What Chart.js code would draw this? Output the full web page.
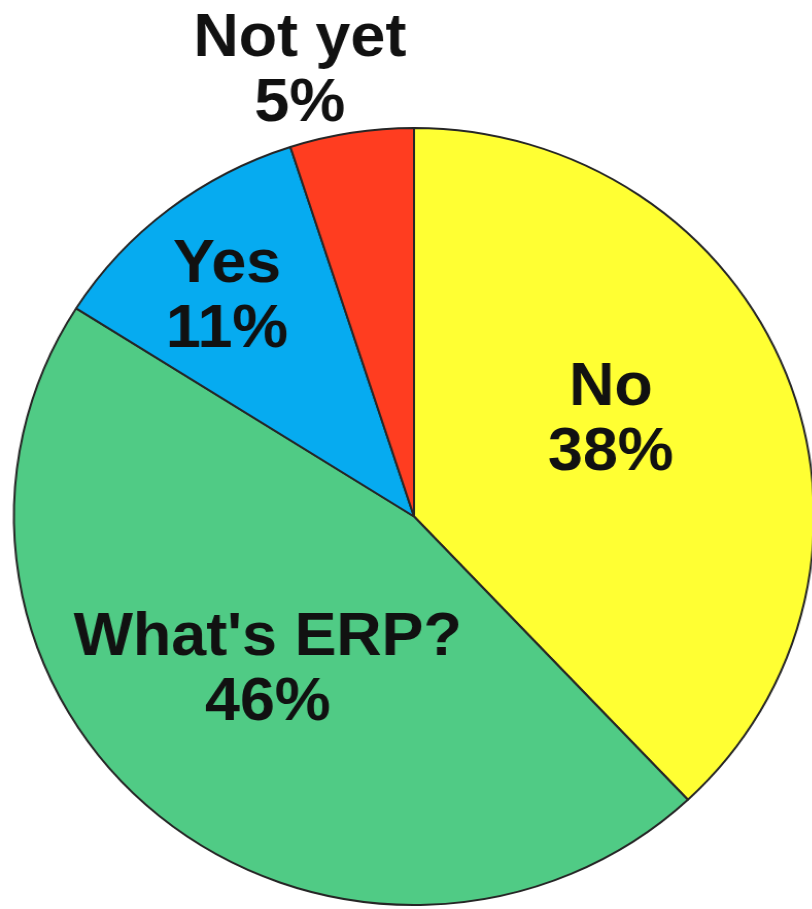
<!DOCTYPE html>
<html>
<head>
<meta charset="utf-8">
<title>ERP survey</title>
<script src="https://cdn.jsdelivr.net/npm/chart.js@4"></script>
<style>
    html, body { margin: 0; padding: 0; background: #fff; overflow: hidden; }
    body { width: 812px; height: 909px; }
    /* the pie is drawn round and then widened a little into an oval */
    #pie { display: block; width: 828px; height: 909px; }
</style>
</head>
<body>
<canvas id="pie" width="804" height="909" style="width:828px;height:909px"></canvas>
<script>
const answers = ["No", "What's ERP?", "Yes", "Not yet"];
const shares = [38, 46, 11, 5];
const sliceColors = ["#ffff33", "#50cb85", "#06abf0", "#ff3d20"];

// label placement: fraction of the radius, and a nudge off the slice's mid angle (degrees)
const labelRadius = [0.55, 0.54, 0.73, 1.18];
const labelNudge = [-5, 3, -2, -5];

const sliceLabels = {
    id: "sliceLabels",
    afterDatasetsDraw(chart) {
        const ctx = chart.ctx;
        const arcs = chart.getDatasetMeta(0).data;
        ctx.save();
        ctx.font = "bold 61px 'Liberation Sans', Arial, sans-serif";
        ctx.fillStyle = "#111";
        ctx.textAlign = "center";
        ctx.textBaseline = "middle";
        arcs.forEach((arc, i) => {
            const { x, y, startAngle, endAngle, outerRadius } = arc.getProps(
                ["x", "y", "startAngle", "endAngle", "outerRadius"], true);
            const mid = (startAngle + endAngle) / 2 + labelNudge[i] * Math.PI / 180;
            const r = outerRadius * labelRadius[i];
            const cx = x + Math.cos(mid) * r;
            const cy = y + Math.sin(mid) * r;
            ctx.fillText(answers[i], cx, cy - 33);
            ctx.fillText(`${shares[i]}%`, cx, cy + 32);
        });
        ctx.restore();
    },
};

new Chart(document.getElementById("pie"), {
    type: "pie",
    data: {
        labels: answers,
        datasets: [
            {
                data: shares,
                backgroundColor: sliceColors,
                borderColor: "#262626",
                borderWidth: 2,
            },
        ],
    },
    options: {
        responsive: false,
        animation: false,
        layout: {
            padding: { left: 12, right: 12, top: 127, bottom: 3 },
        },
        plugins: {
            legend: { display: false },
            tooltip: { enabled: false },
        },
    },
    plugins: [sliceLabels],
});
</script>
</body>
</html>
